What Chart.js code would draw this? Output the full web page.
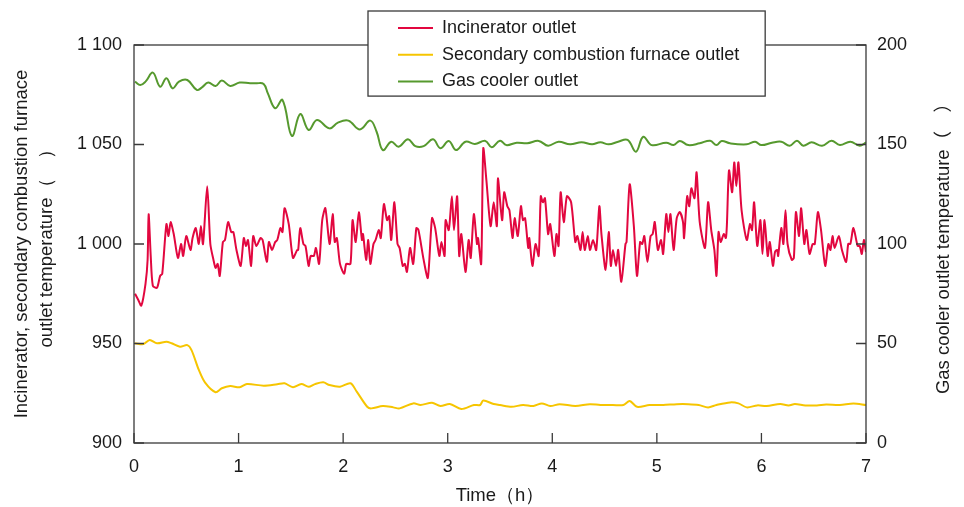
<!DOCTYPE html>
<html>
<head>
<meta charset="utf-8">
<script src="https://cdn.jsdelivr.net/npm/chart.js@4.4.1/dist/chart.umd.min.js"></script>
<style>
  html, body { margin: 0; padding: 0; background: #fff; }
</style>
</head>
<body>
<canvas id="tempChart" width="964" height="507"></canvas>

<script>
  const seriesLabels = ['Incinerator outlet', 'Secondary combustion furnace outlet', 'Gas cooler outlet'];
  const seriesColors = ['#e2073f', '#f6c500', '#56992e'];

  const timeTickLabels = ['0', '1', '2', '3', '4', '5', '6', '7'];
  const leftTickValues = [900, 950, 1000, 1050, 1100];
  const leftTickLabels = ['900', '950', '1 000', '1 050', '1 100'];
  const rightTickLabels = ['0', '50', '100', '150', '200'];

  const leftTitle = ['Incinerator, secondary combustion furnace', 'outlet temperature（　）'];
  const rightTitle = 'Gas cooler outlet temperature（　）';
  const bottomTitle = 'Time（h）';

  // incinerator outlet (left axis)
  const incTime = [
    0.01,0.04,0.07,0.11,0.13,0.14,0.16,0.18,0.22,0.25,
    0.27,0.31,0.33,0.35,0.38,0.42,0.45,0.47,0.50,0.54,
    0.56,0.59,0.62,0.64,0.66,0.70,0.73,0.76,0.78,0.80,
    0.82,0.85,0.87,0.90,0.93,0.95,0.98,1.02,1.05,1.07,
    1.09,1.12,1.14,1.17,1.21,1.23,1.27,1.29,1.32,1.35,
    1.37,1.40,1.42,1.44,1.48,1.52,1.56,1.57,1.59,1.62,
    1.64,1.67,1.69,1.72,1.74,1.77,1.80,1.83,1.87,1.90,
    1.92,1.94,1.97,2.01,2.03,2.07,2.09,2.12,2.15,2.18,
    2.19,2.22,2.24,2.26,2.29,2.31,2.34,2.36,2.39,2.42,
    2.44,2.46,2.49,2.52,2.54,2.57,2.59,2.61,2.64,2.67,
    2.70,2.72,2.77,2.81,2.85,2.88,2.92,2.94,2.97,2.98,
    3.01,3.04,3.06,3.09,3.11,3.13,3.17,3.20,3.22,3.25,
    3.28,3.29,3.32,3.34,3.37,3.41,3.44,3.47,3.48,3.52,
    3.54,3.57,3.59,3.62,3.64,3.67,3.70,3.72,3.74,3.77,
    3.78,3.81,3.84,3.87,3.89,3.91,3.93,3.96,3.98,4.02,
    4.04,4.06,4.08,4.11,4.14,4.18,4.22,4.24,4.27,4.29,
    4.31,4.34,4.36,4.39,4.42,4.45,4.47,4.51,4.54,4.56,
    4.58,4.61,4.63,4.66,4.70,4.71,4.74,4.78,4.81,4.84,
    4.86,4.88,4.91,4.94,4.96,4.98,5.01,5.04,5.06,5.09,
    5.11,5.13,5.16,5.19,5.22,5.25,5.26,5.29,5.31,5.33,
    5.36,5.38,5.41,5.46,5.49,5.52,5.55,5.57,5.59,5.61,
    5.64,5.66,5.67,5.69,5.72,5.74,5.76,5.78,5.81,5.86,
    5.89,5.91,5.93,5.96,5.99,6.01,6.03,6.06,6.08,6.11,
    6.13,6.15,6.16,6.19,6.21,6.23,6.25,6.29,6.31,6.33,
    6.36,6.38,6.41,6.43,6.46,6.49,6.51,6.54,6.57,6.61,
    6.64,6.66,6.68,6.70,6.74,6.77,6.81,6.83,6.85,6.88,
    6.92,6.94,6.96,6.98,7.00
  ];
  const incTemp = [
    975,972,969,980,992,1015,994,979,978,984,
    985,1010,1004,1011,1005,993,1000,994,1004,997,
    1003,1008,1000,1009,1000,1029,1000,992,988,990,
    984,1001,1002,1011,1006,1006,997,989,1003,999,
    1002,989,1004,999,1003,1002,991,1001,997,1001,
    1002,1008,1006,1018,1010,993,997,997,1008,1000,
    999,989,994,994,998,990,1012,1018,1000,1015,
    1001,1003,990,985,990,990,1012,1001,1016,1002,
    1005,992,1002,990,1000,1002,1007,1003,1020,1012,
    1014,1002,1021,1000,998,989,990,986,998,990,
    1008,1007,992,983,1013,1008,994,1001,994,1012,
    1007,1024,1007,1024,994,1005,986,1002,993,1015,
    1000,1003,990,1048,1032,1009,1021,1009,1033,1012,
    1026,1019,1017,1003,1013,1004,1019,1012,1013,998,
    1003,989,1000,994,1024,1021,1023,1005,1010,994,
    1005,999,1026,1011,1024,1021,1001,1004,997,1006,
    997,1004,997,1002,997,1019,1005,987,1006,989,
    997,989,997,981,1000,1001,1030,1009,984,1001,
    1000,1004,991,1004,1005,1011,997,1002,995,1015,
    1006,1015,997,1013,1016,1011,1003,1024,1019,1028,
    1023,1036,1011,998,1021,1007,997,984,1006,1001,
    1005,1003,1010,1037,1026,1041,1029,1041,1017,1002,
    1010,1007,1021,999,1012,995,1012,994,1001,989,
    996,997,994,1008,1000,1017,1000,992,993,1016,
    1004,1018,1000,1007,995,1000,1000,1016,1007,989,
    1000,997,1004,998,1004,997,991,1000,1000,1008,
    999,999,995,1002,996
  ];

  // secondary combustion furnace outlet (left axis)
  const secTime = [
    0.01,0.09,0.15,0.22,0.31,0.36,0.44,0.51,0.55,0.62,
    0.68,0.78,0.84,0.92,1.01,1.08,1.24,1.37,1.44,1.52,
    1.60,1.67,1.73,1.81,1.87,1.97,2.07,2.13,2.23,2.27,
    2.38,2.48,2.54,2.67,2.74,2.85,2.93,3.02,3.13,3.25,
    3.31,3.34,3.44,3.50,3.61,3.72,3.82,3.90,3.98,4.07,
    4.22,4.36,4.46,4.58,4.68,4.74,4.81,4.93,5.06,5.19,
    5.30,5.40,5.49,5.57,5.70,5.78,5.86,5.96,6.05,6.18,
    6.26,6.32,6.42,6.53,6.62,6.75,6.88,7.00
  ];
  const secTemp = [
    950.1,949.7,951.8,950.1,950.9,950.1,948.4,949.2,946.7,936.7,
    930.3,925.5,927.5,928.6,928.0,929.6,928.8,929.5,930.0,928.0,
    929.6,928.3,929.6,930.5,929.1,928.3,930.0,925.8,918.2,917.4,
    918.6,917.9,917.4,919.9,919.1,920.2,918.6,919.6,917.1,919.1,
    919.1,921.3,919.6,919.1,918.2,919.1,918.6,919.9,918.6,919.5,
    918.6,919.5,919.1,919.1,919.1,921.1,918.2,919.1,919.1,919.5,
    919.5,919.1,917.9,919.1,920.4,919.9,917.9,918.9,918.6,919.6,
    918.9,919.6,918.9,918.9,919.3,919.1,919.9,919.1
  ];

  // gas cooler outlet (right axis)
  const gasTime = [
    0.01,0.06,0.11,0.18,0.25,0.31,0.37,0.43,0.51,0.60,
    0.65,0.71,0.78,0.84,0.92,1.01,1.11,1.17,1.24,1.28,
    1.35,1.42,1.51,1.59,1.67,1.75,1.87,1.95,2.05,2.16,
    2.26,2.32,2.38,2.46,2.53,2.62,2.69,2.77,2.86,2.93,
    3.01,3.08,3.17,3.26,3.36,3.42,3.50,3.56,3.66,3.76,
    3.87,3.96,4.06,4.17,4.28,4.38,4.46,4.54,4.63,4.72,
    4.80,4.87,4.95,5.09,5.16,5.22,5.30,5.41,5.51,5.57,
    5.62,5.70,5.86,5.94,6.00,6.10,6.19,6.27,6.34,6.40,
    6.48,6.58,6.67,6.75,6.85,6.94,7.00
  ];
  const gasTemp = [
    181.6,179.9,181.6,186.1,179.0,183.3,178.2,181.6,182.4,177.4,
    178.7,181.1,179.4,182.1,179.4,181.1,180.8,180.8,180.4,175.7,
    168.2,172.4,154.3,165.3,157.3,162.3,158.1,161.0,162.0,157.6,
    162.0,156.4,147.2,151.4,148.9,152.6,149.2,149.2,152.6,148.1,
    151.8,147.2,151.4,150.3,151.8,148.6,151.9,149.7,150.9,150.6,
    151.8,149.4,151.4,150.1,151.1,150.1,151.1,150.1,151.4,152.3,
    146.4,153.9,149.7,150.9,149.7,151.8,149.7,150.6,151.9,149.7,
    151.8,150.6,150.1,151.4,149.7,150.9,151.4,149.4,151.9,149.4,
    151.1,149.4,151.9,149.7,151.4,149.4,151.0
  ];

  const FONT = '"Liberation Sans", Arial, "Noto Sans CJK SC", sans-serif';
  const INK = '#1a1a1a';
  const FRAME = '#3a3a3a';

  function toPoints(times, values) {
    return times.map((t, i) => ({ x: t, y: values[i] }));
  }

  // box round the plot, inward tick marks, right title and the legend box
  const framePlugin = {
    id: 'frame',
    afterDatasetsDraw(chart) {
      const { ctx, chartArea: a, scales } = chart;
      ctx.save();
      ctx.strokeStyle = FRAME;
      ctx.lineWidth = 1.3;
      ctx.strokeRect(a.left, a.top, a.right - a.left, a.bottom - a.top);
      ctx.beginPath();
      scales.x.ticks.forEach(t => {
        const px = scales.x.getPixelForValue(t.value);
        ctx.moveTo(px, a.bottom);
        ctx.lineTo(px, a.bottom - 10);
      });
      scales.y.ticks.forEach(t => {
        const py = scales.y.getPixelForValue(t.value);
        ctx.moveTo(a.left, py);
        ctx.lineTo(a.left + 10, py);
      });
      scales.y2.ticks.forEach(t => {
        const py = scales.y2.getPixelForValue(t.value);
        ctx.moveTo(a.right, py);
        ctx.lineTo(a.right - 10, py);
      });
      ctx.stroke();

      // right axis title reads bottom to top
      ctx.translate(chart.width - 20, (a.top + a.bottom) / 2);
      ctx.rotate(-Math.PI / 2);
      ctx.font = '18.5px ' + FONT;
      ctx.fillStyle = INK;
      ctx.textAlign = 'center';
      ctx.textBaseline = 'middle';
      ctx.fillText(rightTitle, 0, 0);
      ctx.restore();
    },
    afterDraw(chart) {
      const ctx = chart.ctx;
      const sets = chart.data.datasets;
      ctx.save();
      ctx.font = '18px ' + FONT;
      const left = 368, top = 11, rowH = 26.7;
      const textX = 442;
      const maxW = Math.max(...sets.map(d => ctx.measureText(d.label).width));
      const w = textX - left + maxW + 26;
      const h = rowH * sets.length + 5;
      ctx.fillStyle = '#fff';
      ctx.fillRect(left, top, w, h);
      ctx.strokeStyle = FRAME;
      ctx.lineWidth = 1.3;
      ctx.strokeRect(left, top, w, h);
      sets.forEach((d, i) => {
        const y = top + 17 + i * rowH;
        ctx.strokeStyle = d.borderColor;
        ctx.lineWidth = 2;
        ctx.beginPath();
        ctx.moveTo(398, y);
        ctx.lineTo(433, y);
        ctx.stroke();
        ctx.fillStyle = INK;
        ctx.textBaseline = 'middle';
        ctx.fillText(d.label, textX, y);
      });
      ctx.restore();
    }
  };

  const ctx = document.getElementById('tempChart').getContext('2d');
  const chart = new Chart(ctx, {
    type: 'line',
    data: {
      datasets: [
        {
          label: seriesLabels[0],
          data: toPoints(incTime, incTemp),
          borderColor: seriesColors[0],
          borderWidth: 2,
          tension: 0.25,
          yAxisID: 'y'
        },
        {
          label: seriesLabels[1],
          data: toPoints(secTime, secTemp),
          borderColor: seriesColors[1],
          borderWidth: 2,
          tension: 0.3,
          yAxisID: 'y'
        },
        {
          label: seriesLabels[2],
          data: toPoints(gasTime, gasTemp),
          borderColor: seriesColors[2],
          borderWidth: 2,
          tension: 0.4,
          yAxisID: 'y2'
        }
      ]
    },
    options: {
      responsive: false,
      animation: false,
      devicePixelRatio: 1,
      elements: { point: { radius: 0 } },
      layout: { padding: { top: 45, left: 0, right: 0, bottom: 0 } },
      plugins: { legend: { display: false }, tooltip: { enabled: false } },
      scales: {
        x: {
          type: 'linear',
          min: 0, max: 7,
          grid: { display: false },
          border: { display: false },
          ticks: {
            stepSize: 1, padding: 5, color: INK, font: { size: 18 },
            callback: (v) => timeTickLabels[v]
          },
          title: { display: true, text: bottomTitle, color: INK, font: { size: 18.5 }, padding: { top: 0, bottom: 0 } },
          afterFit: (s) => { s.height = 64; }
        },
        y: {
          position: 'left',
          min: 900, max: 1100,
          grid: { display: false },
          border: { display: false },
          ticks: {
            stepSize: 50, padding: 4, color: INK, font: { size: 18 },
            callback: (v) => leftTickLabels[leftTickValues.indexOf(v)]
          },
          title: { display: true, text: leftTitle, color: INK, font: { size: 18.5, lineHeight: 1.35 }, padding: { top: 9.5, bottom: 0 } },
          afterFit: (s) => { s.width = 134; }
        },
        y2: {
          position: 'right',
          min: 0, max: 200,
          grid: { display: false },
          border: { display: false },
          ticks: {
            stepSize: 50, padding: 3, color: INK, font: { size: 18 },
            callback: (v) => rightTickLabels[v / 50]
          },
          afterFit: (s) => { s.width = 98; }
        }
      }
    },
    plugins: [framePlugin]
  });
</script>
</body>
</html>
